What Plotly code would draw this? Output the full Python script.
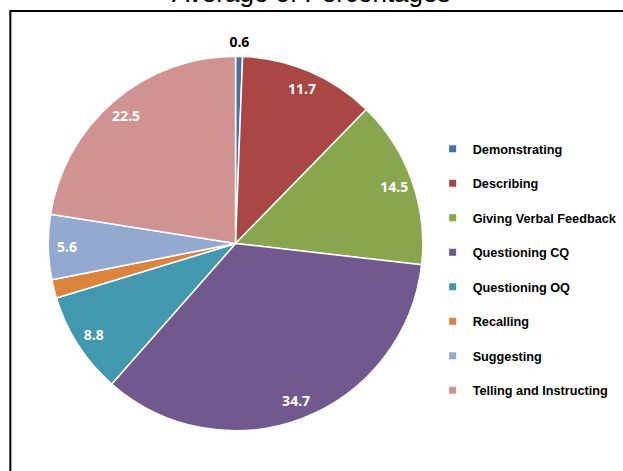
import plotly.graph_objects as go

# ---- data ----
categories = ["Demonstrating", "Describing", "Giving Verbal Feedback", "Questioning CQ",
              "Questioning OQ", "Recalling", "Suggesting", "Telling and Instructing"]
values = [0.6, 11.7, 14.5, 34.7, 8.8, 1.6, 5.6, 22.5]
shown_labels = [True, True, True, True, True, False, True, True]
colors = ["#4572A7", "#AA4643", "#89A54E", "#71588F", "#4198AF", "#DB843D", "#93A9CF", "#D19392"]
title_text = "Average of Percentages"

W, H = 623, 471
cx, cy, R = 239, 243.5, 190


def dom(r):
    return dict(x=[(cx - r) / W, (cx + r) / W], y=[(H - cy - r) / H, (H - cy + r) / H])


fig = go.Figure()

# main pie
fig.add_trace(go.Pie(
    labels=categories, values=values, sort=False, direction="clockwise", rotation=0,
    marker=dict(colors=colors, line=dict(color="white", width=1.5)),
    textinfo="none", showlegend=False, hoverinfo="label+value",
    domain=dom(R),
))

small = [v < 1 for v in values]

# label ring (transparent) to place value labels near the outer edge
texts_in = [(f"{v}" if (s and not sm) else "") for v, s, sm in zip(values, shown_labels, small)]
fig.add_trace(go.Pie(
    labels=categories, values=values, sort=False, direction="clockwise", rotation=0,
    hole=0.8, marker=dict(colors=["rgba(0,0,0,0)"] * len(values), line=dict(width=0)),
    text=texts_in, textinfo="text", textposition="inside",
    insidetextorientation="horizontal",
    insidetextfont=dict(family="Noto Sans", size=14, color="white", weight="bold"),
    showlegend=False, hoverinfo="skip",
    domain=dom(R),
))

# outer ring (transparent) for the small slice's label just above the pie
texts_out = [(f"{v}" if (s and sm) else "") for v, s, sm in zip(values, shown_labels, small)]
R2 = R + 19
fig.add_trace(go.Pie(
    labels=categories, values=values, sort=False, direction="clockwise", rotation=0,
    hole=R / R2, marker=dict(colors=["rgba(0,0,0,0)"] * len(values), line=dict(width=0)),
    text=texts_out, textinfo="text", textposition="inside",
    insidetextorientation="horizontal",
    insidetextfont=dict(family="Noto Sans", size=14, color="black", weight="bold"),
    showlegend=False, hoverinfo="skip",
    domain=dom(R2),
))

# legend entries
for i, (cat, col) in enumerate(zip(categories, colors)):
    fig.add_trace(go.Scatter(
        x=[None], y=[None], mode="markers", name=cat, legendgroup=f"g{i}",
        marker=dict(symbol="square", size=7, color=col), showlegend=True,
    ))

fig.update_layout(
    width=W, height=H, margin=dict(l=0, r=0, t=0, b=0),
    paper_bgcolor="white", plot_bgcolor="white",
    xaxis=dict(visible=False), yaxis=dict(visible=False),
    uniformtext=dict(minsize=14, mode="show"),
    legend=dict(x=439 / W, y=1 - 134 / H, xanchor="left", yanchor="top",
                tracegroupgap=15, bgcolor="rgba(0,0,0,0)",
                font=dict(family="Liberation Sans, Arial", size=12.7, color="black", weight="bold")),
    shapes=[dict(type="rect", xref="paper", yref="paper",
                 x0=10.5 / W, x1=1.05, y0=-0.05, y1=1 - 11 / H,
                 line=dict(color="black", width=2), fillcolor="rgba(0,0,0,0)", layer="below")],
    annotations=[dict(text=title_text, xref="paper", yref="paper", x=316 / W, y=1 - 10 / H,
                      xanchor="center", yanchor="bottom", showarrow=False,
                      font=dict(family="Liberation Sans, Arial", size=26, color="black"))],
)

fig.write_html("out.html", config={"displayModeBar": False},
               post_script="document.body.style.margin='0';")
